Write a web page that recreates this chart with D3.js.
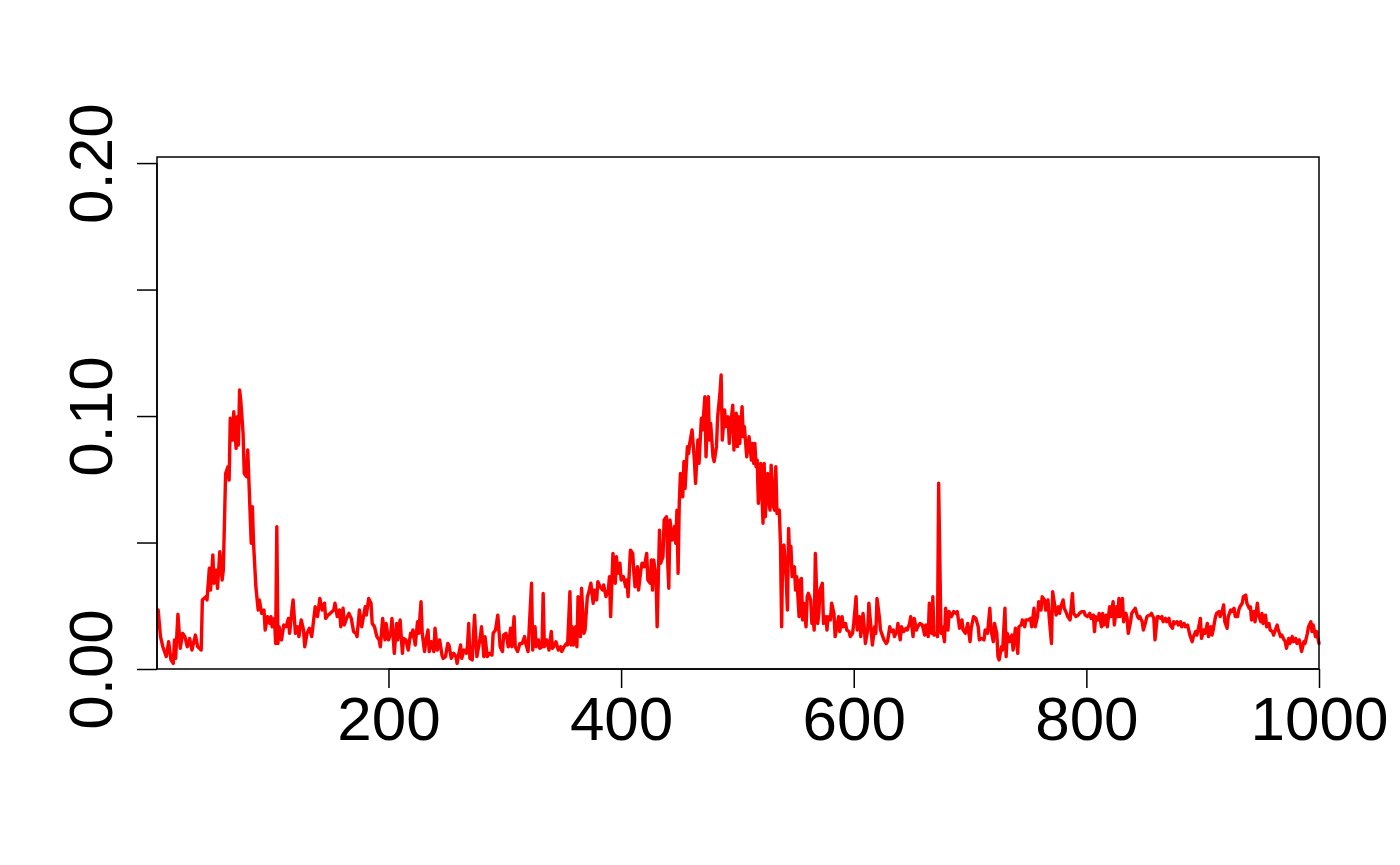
<!DOCTYPE html>
<html>
<head>
<meta charset="utf-8">
<script src="https://cdn.jsdelivr.net/npm/d3@7"></script>
<style>
  html, body { margin: 0; padding: 0; background: #ffffff; }
  svg { display: block; }
  text { font-family: "Liberation Sans", Arial, sans-serif; }
</style>
</head>
<body>
<svg id="chart" width="1400" height="865"></svg>
<script>
const obsIndex = [
  2,4,6,9,11,13,15,16,17,19,21,23,25,27,29,31,34,36,39,40,43,44,46,47,49,50,52,53,55,57,58,60,62,63,64,66,67,69,70,71,72,73,75,76,78,79,80,82,83,84,86,88,89,91,93,94,96,98,99,100,102,103,104,105,106,108,110,112,114,115,117,118,120,122,123,125,127,128,130,132,134,135,137,139,141,143,145,146,148,150,153,154,156,158,159,161,162,164,
  166,168,170,172,173,175,177,178,180,181,183,185,186,188,190,192,193,195,197,198,200,202,203,205,207,208,210,212,213,215,217,219,220,221,223,225,226,228,229,231,232,234,235,237,239,240,242,244,246,247,249,251,252,254,256,258,259,260,262,263,265,267,268,269,270,272,274,276,277,279,280,282,283,285,287,289,290,292,294,296,298,299,301,303,305,306,308,309,311,313,315,317,318,320,
  323,324,326,327,329,330,332,333,334,336,338,340,341,342,344,346,348,349,351,353,354,356,357,358,359,361,362,363,365,366,368,369,371,372,374,376,377,379,380,382,384,385,387,389,390,391,393,395,396,397,399,400,402,404,405,406,408,410,411,412,414,415,417,418,420,422,423,425,426,427,428,430,431,433,434,436,437,439,440,441,442,444,446,447,448,449,450,451,453,454,455,457,458,459,461,463,464,466,467,469,470,472,473,475,476,477,479,480,482,483,485,486,
  487,489,490,492,493,494,496,497,498,499,500,501,502,504,505,506,508,509,510,512,513,514,515,516,517,518,520,521,522,523,524,526,527,528,529,531,532,533,534,536,537,538,539,540,542,543,544,545,546,547,549,550,551,553,554,555,556,557,559,560,561,563,564,565,566,567,569,570,571,573,574,576,577,578,580,581,583,584,586,587,588,590,591,593,594,596,597,599,600,602,603,605,606,608,609,610,612,613,615,616,618,619,620,622,623,625,626,628,629,631,632,634,635,637,638,640,641,643,645,646,648,649,651,652,654,655,657,
  659,661,662,664,665,667,668,669,671,672,673,675,676,678,679,681,682,684,686,688,689,691,693,694,696,698,700,701,703,705,707,708,710,712,713,715,717,718,720,721,723,724,725,727,728,730,731,732,734,736,737,739,741,742,744,745,747,748,750,752,753,755,756,758,759,761,762,764,765,767,768,770,771,773,774,776,777,778,780,781,783,784,786,788,789,791,793,794,796,798,799,801,803,804,806,807,808,810,811,813,814,815,817,818,820,821,823,824,826,827,828,
  829,831,832,834,835,836,838,839,841,842,844,845,846,848,849,851,852,854,855,856,858,859,861,862,864,865,866,868,869,871,872,874,875,876,878,879,881,882,884,885,887,888,889,891,892,894,895,897,898,899,901,902,904,905,907,908,909,911,912,914,915,917,918,919,921,922,924,925,927,928,930,931,932,934,935,937,938,940,941,942,944,945,947,948,950,951,952,954,955,957,958,960,961,962,964,965,967,968,970,971,972,974,975,977,978,980,981,983,984,985,987,988,990,991,993,994,995,997,998,1000
];
const obsValue = [
  0.0233,0.0128,0.0088,0.0049,0.0108,0.0036,0.0022,0.0115,0.0042,0.0217,0.0082,0.0141,0.0128,0.0088,0.0121,0.0075,0.0134,0.0088,0.0075,0.0273,0.0286,0.0273,0.0398,0.0312,0.0451,0.0339,0.0391,0.0319,0.0464,0.0352,0.0391,0.0773,0.0800,0.0747,0.0991,0.0905,0.1017,0.0872,0.0997,0.0885,0.1103,0.1063,0.0931,0.0773,0.0760,0.0866,0.0747,0.0497,0.0642,0.0497,0.0325,0.0233,0.0273,0.0220,0.0233,0.0154,0.0207,0.0180,0.0207,0.0167,0.0200,0.0101,0.0563,0.0101,0.0167,0.0115,0.0174,0.0167,0.0200,0.0141,0.0233,0.0273,0.0141,0.0167,0.0128,0.0194,0.0154,0.0088,0.0141,0.0161,0.0128,0.0167,0.0246,0.0207,0.0279,0.0233,0.0260,0.0200,0.0213,0.0220,0.0233,0.0260,0.0207,0.0233,0.0167,0.0240,0.0174,0.0200,
  0.0220,0.0200,0.0148,0.0141,0.0128,0.0233,0.0167,0.0194,0.0246,0.0213,0.0279,0.0260,0.0180,0.0167,0.0128,0.0115,0.0088,0.0200,0.0115,0.0180,0.0115,0.0141,0.0200,0.0062,0.0180,0.0115,0.0194,0.0062,0.0121,0.0115,0.0075,0.0141,0.0128,0.0154,0.0095,0.0187,0.0141,0.0266,0.0141,0.0069,0.0108,0.0154,0.0069,0.0108,0.0069,0.0161,0.0075,0.0115,0.0055,0.0042,0.0049,0.0101,0.0095,0.0042,0.0062,0.0049,0.0022,0.0049,0.0095,0.0042,0.0075,0.0062,0.0095,0.0180,0.0042,0.0036,0.0213,0.0049,0.0075,0.0128,0.0167,0.0049,0.0128,0.0049,0.0062,0.0055,0.0141,0.0154,0.0213,0.0088,0.0069,0.0134,0.0141,0.0088,0.0161,0.0088,0.0207,0.0088,0.0069,0.0101,0.0101,0.0128,0.0101,0.0069,
  0.0339,0.0075,0.0167,0.0088,0.0115,0.0082,0.0088,0.0299,0.0088,0.0115,0.0075,0.0148,0.0082,0.0088,0.0108,0.0075,0.0088,0.0069,0.0088,0.0101,0.0095,0.0306,0.0095,0.0167,0.0095,0.0167,0.0088,0.0286,0.0128,0.0319,0.0141,0.0154,0.0286,0.0299,0.0339,0.0260,0.0312,0.0273,0.0345,0.0325,0.0312,0.0332,0.0286,0.0312,0.0365,0.0207,0.0457,0.0339,0.0444,0.0378,0.0418,0.0352,0.0365,0.0325,0.0352,0.0286,0.0470,0.0457,0.0378,0.0325,0.0404,0.0312,0.0391,0.0418,0.0404,0.0457,0.0352,0.0339,0.0431,0.0312,0.0431,0.0365,0.0167,0.0549,0.0418,0.0444,0.0589,0.0602,0.0431,0.0319,0.0589,0.0510,0.0563,0.0497,0.0628,0.0378,0.0655,0.0773,0.0681,0.0820,0.0714,0.0879,0.0852,0.0892,0.0945,0.0826,0.0734,0.0905,0.0813,0.0991,0.0945,0.1076,0.0839,0.1076,0.0905,0.0971,0.0839,0.0820,0.0879,0.0997,0.1090,0.1162,
  0.0905,0.1024,0.0958,0.0997,0.0892,0.0958,0.1043,0.0866,0.0958,0.1011,0.0879,0.0997,0.0892,0.1037,0.0918,0.0958,0.0839,0.0879,0.0918,0.0826,0.0892,0.0813,0.0892,0.0800,0.0826,0.0655,0.0813,0.0694,0.0576,0.0813,0.0602,0.0773,0.0668,0.0628,0.0806,0.0642,0.0628,0.0800,0.0615,0.0628,0.0497,0.0167,0.0484,0.0490,0.0352,0.0233,0.0556,0.0431,0.0484,0.0365,0.0404,0.0312,0.0365,0.0207,0.0352,0.0358,0.0194,0.0260,0.0167,0.0286,0.0299,0.0273,0.0180,0.0207,0.0154,0.0457,0.0180,0.0220,0.0312,0.0339,0.0180,0.0207,0.0154,0.0207,0.0194,0.0260,0.0220,0.0128,0.0180,0.0207,0.0148,0.0207,0.0167,0.0180,0.0154,0.0148,0.0128,0.0141,0.0180,0.0286,0.0154,0.0207,0.0128,0.0220,0.0167,0.0101,0.0154,0.0260,0.0154,0.0095,0.0167,0.0141,0.0279,0.0207,0.0154,0.0128,0.0115,0.0101,0.0108,0.0167,0.0148,0.0154,0.0128,0.0148,0.0180,0.0115,0.0167,0.0148,0.0161,0.0154,0.0180,0.0207,0.0128,0.0200,0.0154,0.0167,0.0180,
  0.0174,0.0134,0.0174,0.0128,0.0260,0.0141,0.0286,0.0134,0.0141,0.0128,0.0734,0.0141,0.0167,0.0108,0.0240,0.0154,0.0227,0.0207,0.0227,0.0220,0.0227,0.0161,0.0194,0.0154,0.0141,0.0180,0.0108,0.0161,0.0207,0.0200,0.0167,0.0115,0.0121,0.0115,0.0154,0.0141,0.0240,0.0154,0.0108,0.0180,0.0141,0.0049,0.0036,0.0088,0.0075,0.0240,0.0049,0.0141,0.0108,0.0134,0.0075,0.0161,0.0062,0.0167,0.0174,0.0194,0.0167,0.0194,0.0194,0.0200,0.0167,0.0240,0.0167,0.0207,0.0266,0.0233,0.0286,0.0273,0.0233,0.0273,0.0207,0.0101,0.0306,0.0246,0.0213,0.0246,0.0220,0.0246,0.0273,0.0240,0.0220,0.0207,0.0194,0.0299,0.0220,0.0207,0.0213,0.0220,0.0227,0.0227,0.0213,0.0207,0.0220,0.0200,0.0213,0.0148,0.0207,0.0194,0.0220,0.0167,0.0220,0.0174,0.0213,0.0167,0.0246,0.0207,0.0266,0.0174,0.0246,0.0207,0.0279,
  0.0207,0.0279,0.0187,0.0220,0.0200,0.0141,0.0187,0.0220,0.0233,0.0240,0.0207,0.0200,0.0207,0.0187,0.0154,0.0187,0.0207,0.0213,0.0213,0.0220,0.0200,0.0115,0.0207,0.0207,0.0200,0.0207,0.0187,0.0200,0.0187,0.0200,0.0174,0.0161,0.0187,0.0180,0.0187,0.0174,0.0187,0.0167,0.0180,0.0167,0.0174,0.0154,0.0134,0.0108,0.0128,0.0148,0.0134,0.0174,0.0200,0.0121,0.0154,0.0141,0.0180,0.0128,0.0167,0.0134,0.0154,0.0207,0.0220,0.0227,0.0207,0.0233,0.0253,0.0187,0.0161,0.0207,0.0233,0.0227,0.0240,0.0207,0.0207,0.0233,0.0246,0.0260,0.0286,0.0292,0.0260,0.0240,0.0246,0.0194,0.0227,0.0187,0.0260,0.0213,0.0187,0.0220,0.0180,0.0213,0.0167,0.0180,0.0154,0.0148,0.0134,0.0148,0.0174,0.0154,0.0128,0.0134,0.0115,0.0108,0.0082,0.0121,0.0101,0.0128,0.0108,0.0121,0.0101,0.0115,0.0095,0.0069,0.0108,0.0101,0.0141,0.0167,0.0187,0.0148,0.0174,0.0128,0.0148,0.0101
];

const xTickValues = [200, 400, 600, 800, 1000];
const yTickValues = [0, 0.05, 0.10, 0.15, 0.20];
const yTickLabels = ["0.00", "", "0.10", "", "0.20"];
const xDomain = [1, 1000];
const yDomain = [0, 0.2024];

const nPts = Math.min(obsIndex.length, obsValue.length);
const data = obsIndex.slice(0, nPts).map((d, i) => ({ x: d, y: obsValue[i] }));

const svg = d3.select("#chart");
svg.append("rect").attr("width", 1400).attr("height", 865).attr("fill", "#ffffff");

const plotLeft = 157, plotRight = 1319, plotTop = 157, plotBottom = 669;
const x = d3.scaleLinear().domain(xDomain).range([plotLeft, plotRight]);
const y = d3.scaleLinear().domain(yDomain).range([plotBottom, plotTop]);

// data line
const line = d3.line().x(d => x(d.x)).y(d => y(d.y));
svg.append("path")
  .datum(data)
  .attr("d", line)
  .attr("fill", "none")
  .attr("stroke", "#ff0000")
  .attr("stroke-width", 3.4)
  .attr("stroke-linejoin", "round")
  .attr("stroke-linecap", "round");

// box
svg.append("rect")
  .attr("x", plotLeft).attr("y", plotTop)
  .attr("width", plotRight - plotLeft).attr("height", plotBottom - plotTop)
  .attr("fill", "none").attr("stroke", "#000").attr("stroke-width", 1.5);

// x axis
const gx = svg.append("g")
  .attr("transform", `translate(0,${plotBottom})`)
  .call(d3.axisBottom(x).tickValues(xTickValues).tickSize(19).tickSizeOuter(0).tickPadding(8).tickFormat(d3.format("d")));
gx.select(".domain").remove();
gx.append("line").attr("x1", x(xTickValues[0])).attr("x2", x(xTickValues[xTickValues.length - 1]))
  .attr("stroke", "#000").attr("stroke-width", 1.5);
gx.selectAll(".tick line").attr("stroke", "#000").attr("stroke-width", 1.5);
gx.selectAll(".tick text")
  .attr("fill", "#000")
  .style("font-family", '"Liberation Sans", Arial, sans-serif')
  .style("font-size", "62px");

// y axis
const gy = svg.append("g")
  .attr("transform", `translate(${plotLeft},0)`)
  .call(d3.axisLeft(y).tickValues(yTickValues).tickSize(20).tickSizeOuter(0)
        .tickFormat((d, i) => yTickLabels[i]));
gy.select(".domain").remove();
gy.append("line").attr("y1", y(yTickValues[0])).attr("y2", y(yTickValues[yTickValues.length - 1]))
  .attr("stroke", "#000").attr("stroke-width", 1.5);
gy.selectAll(".tick line").attr("stroke", "#000").attr("stroke-width", 1.5);
gy.selectAll(".tick text")
  .attr("x", null).attr("dy", null)
  .attr("text-anchor", "middle")
  .attr("transform", "translate(-45,0) rotate(-90)")
  .attr("fill", "#000")
  .style("font-family", '"Liberation Sans", Arial, sans-serif')
  .style("font-size", "62px");
</script>
</body>
</html>
